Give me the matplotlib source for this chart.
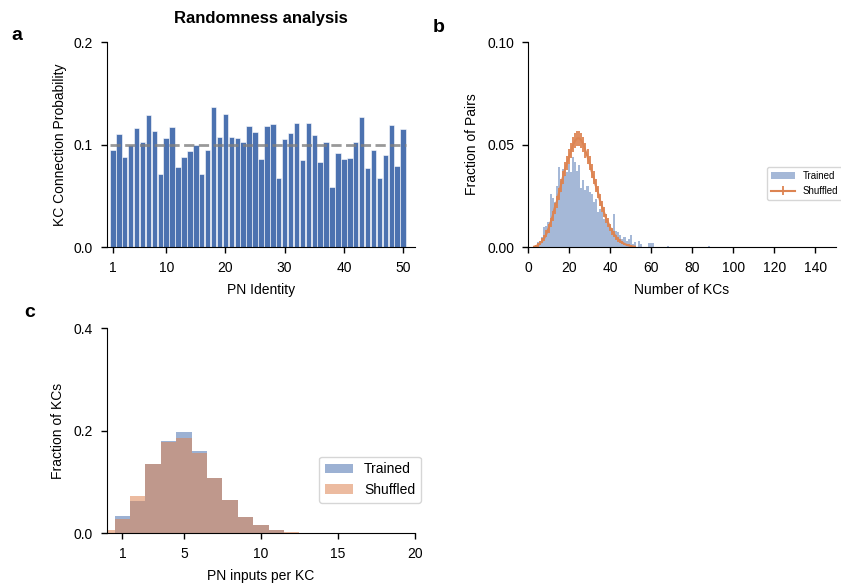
import numpy as np
import matplotlib
matplotlib.use("Agg")
import matplotlib.pyplot as plt

plt.rcParams['font.family'] = ['Liberation Sans', 'DejaVu Sans']
plt.rcParams['font.size'] = 10

BLUE = '#4c72b0'
ORANGE = '#dd8452'

# panel a: connection probability per PN
pn_ids = list(range(1, 51))
kc_prob = [0.095, 0.110, 0.088, 0.100, 0.116, 0.102, 0.129, 0.113, 0.071, 0.106,
           0.117, 0.078, 0.088, 0.094, 0.100, 0.071, 0.095, 0.137, 0.107, 0.130,
           0.107, 0.106, 0.102, 0.118, 0.112, 0.086, 0.118, 0.120, 0.067, 0.105,
           0.111, 0.121, 0.085, 0.121, 0.109, 0.083, 0.102, 0.059, 0.092, 0.086,
           0.087, 0.102, 0.127, 0.077, 0.095, 0.067, 0.090, 0.119, 0.079, 0.115]
chance_level = 0.1

# panel b: number of KCs shared by PN pairs
kc_counts = list(range(3, 53))
trained_pairs = [0.0005, 0.001, 0.0024, 0.003, 0.005, 0.0097, 0.0105, 0.012, 0.026, 0.024,
                 0.022, 0.030, 0.039, 0.032, 0.038, 0.035, 0.0365, 0.0406, 0.0365, 0.0438,
                 0.0417, 0.0373, 0.0398, 0.029, 0.0325, 0.028, 0.030, 0.027, 0.026, 0.022,
                 0.0235, 0.017, 0.0187, 0.017, 0.0138, 0.016, 0.012, 0.0105, 0.009, 0.016,
                 0.008, 0.0073, 0.0057, 0.004, 0.005, 0.003, 0.004, 0.0057, 0.0016, 0.0024]
tail_counts = [54, 55, 59, 60, 61, 68, 88]
tail_pairs = [0.003, 0.0015, 0.002, 0.002, 0.002, 0.0005, 0.0006]
shuffled_pairs = [0.0002, 0.0005, 0.001, 0.002, 0.003, 0.0045, 0.0065, 0.009, 0.012, 0.015,
                  0.019, 0.022, 0.026, 0.030, 0.034, 0.038, 0.041, 0.044, 0.047, 0.050,
                  0.052, 0.053, 0.053, 0.052, 0.050, 0.047, 0.044, 0.041, 0.037, 0.034,
                  0.030, 0.027, 0.023, 0.020, 0.017, 0.014, 0.012, 0.0095, 0.0078, 0.0062,
                  0.0048, 0.0037, 0.0028, 0.0021, 0.0015, 0.0011, 0.0008, 0.0005, 0.0003, 0.0002]
shuffled_err = [0.0003, 0.0005, 0.0008, 0.001, 0.0012, 0.0015, 0.0018, 0.002, 0.0023, 0.0025,
                0.0027, 0.0029, 0.003, 0.0032, 0.0033, 0.0034, 0.0035, 0.0036, 0.0037, 0.0037,
                0.0038, 0.0038, 0.0038, 0.0038, 0.0037, 0.0037, 0.0036, 0.0035, 0.0034, 0.0033,
                0.0032, 0.003, 0.0029, 0.0027, 0.0025, 0.0023, 0.0021, 0.0019, 0.0017, 0.0015,
                0.0013, 0.0011, 0.001, 0.0008, 0.0007, 0.0006, 0.0005, 0.0004, 0.0003, 0.0002]

# panel c: PN inputs per KC
n_inputs = list(range(0, 14))
trained_kc = [0.0, 0.034, 0.063, 0.135, 0.179, 0.197, 0.160, 0.108, 0.064, 0.032,
              0.015, 0.006, 0.001, 0.0]
shuffled_kc = [0.005, 0.027, 0.073, 0.135, 0.178, 0.186, 0.156, 0.108, 0.065, 0.032,
               0.015, 0.006, 0.0015, 0.0005]

fig = plt.figure(figsize=(8.41, 5.84), dpi=100)
ax_a = fig.add_axes([0.1272, 0.577, 0.3662, 0.351])
ax_b = fig.add_axes([0.6278, 0.577, 0.3662, 0.351])
ax_c = fig.add_axes([0.1272, 0.0873, 0.3662, 0.351])

for ax in (ax_a, ax_b, ax_c):
    ax.spines['top'].set_visible(False)
    ax.spines['right'].set_visible(False)
    ax.tick_params(direction='out', length=4, width=1, labelsize=10, pad=6)

# a
ax_a.bar(pn_ids, kc_prob, width=0.92, color=BLUE, edgecolor='white', linewidth=0.4)
ax_a.plot([0.5, 50.5], [chance_level, chance_level], '--', color='gray', lw=2, alpha=0.8)
ax_a.set_xlim(0, 52)
ax_a.set_ylim(0, 0.2)
ax_a.set_xticks([1, 10, 20, 30, 40, 50])
ax_a.set_yticks([0, 0.1, 0.2])
ax_a.set_yticklabels(['0.0', '0.1', '0.2'])
ax_a.set_xlabel('PN Identity', labelpad=6)
ax_a.set_ylabel('KC Connection Probability', labelpad=5)
ax_a.set_title('Randomness analysis', fontweight='bold', fontsize=12, pad=14)

# b
ax_b.bar(kc_counts + tail_counts, trained_pairs + tail_pairs, width=1.0,
         color=BLUE, alpha=0.5, linewidth=0, label='Trained')
ax_b.errorbar(kc_counts, shuffled_pairs, yerr=shuffled_err, color=ORANGE,
              lw=1.5, elinewidth=1.3, label='Shuffled')
ax_b.set_xlim(0, 150)
ax_b.set_ylim(0, 0.1)
ax_b.set_xticks(range(0, 141, 20))
ax_b.set_yticks([0, 0.05, 0.1])
ax_b.set_yticklabels(['0.00', '0.05', '0.10'])
ax_b.set_xlabel('Number of KCs', labelpad=6)
ax_b.set_ylabel('Fraction of Pairs', labelpad=6)
ax_b.legend(loc='center left', bbox_to_anchor=(0.775, 0.31), fontsize=7,
            handlelength=2.5, borderaxespad=0)

# c
ax_c.bar(n_inputs, trained_kc, width=1.0, color=BLUE, alpha=0.55, linewidth=0, label='Trained')
ax_c.bar(n_inputs, shuffled_kc, width=1.0, color=ORANGE, alpha=0.55, linewidth=0, label='Shuffled')
ax_c.set_xlim(0, 20)
ax_c.set_ylim(0, 0.4)
ax_c.set_xticks([1, 5, 10, 15, 20])
ax_c.set_yticks([0, 0.2, 0.4])
ax_c.set_yticklabels(['0.0', '0.2', '0.4'])
ax_c.set_xlabel('PN inputs per KC', labelpad=6)
ax_c.set_ylabel('Fraction of KCs', labelpad=6)
ax_c.legend(loc='center left', bbox_to_anchor=(0.69, 0.26), fontsize=10,
            handlelength=2.0, borderaxespad=0)

fig.text(0.013, 0.94, 'a', fontsize=14, fontweight='bold', va='center')
fig.text(0.515, 0.953, 'b', fontsize=14, fontweight='bold', va='center')
fig.text(0.029, 0.465, 'c', fontsize=14, fontweight='bold', va='center')

fig.savefig('out.png', dpi=100)
